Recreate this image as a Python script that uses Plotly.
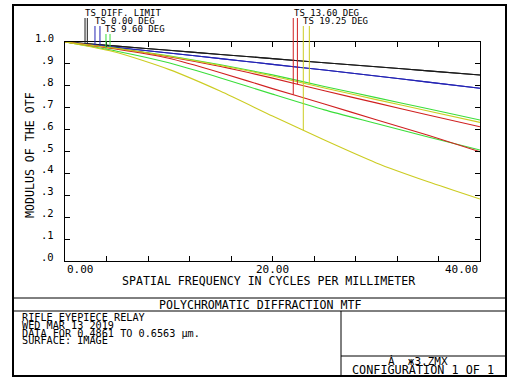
import numpy as np
import plotly.graph_objects as go

# ---------------- data ----------------
freq = [0, 5, 10, 15, 20, 25, 30, 35, 40]

diff_T = [1.0, 0.981, 0.962, 0.943, 0.924, 0.905, 0.887, 0.868, 0.849]
diff_S = [1.0, 0.981, 0.962, 0.943, 0.924, 0.905, 0.887, 0.868, 0.849]
deg0_T = [1.0, 0.975, 0.950, 0.924, 0.898, 0.872, 0.845, 0.817, 0.789]
deg0_S = [1.0, 0.975, 0.950, 0.924, 0.898, 0.872, 0.845, 0.817, 0.789]
deg9_T = [1.0, 0.958, 0.905, 0.836, 0.762, 0.690, 0.628, 0.566, 0.507]
deg9_S = [1.0, 0.971, 0.937, 0.896, 0.850, 0.797, 0.746, 0.695, 0.644]
deg13_T = [1.0, 0.967, 0.926, 0.860, 0.787, 0.717, 0.645, 0.574, 0.499]
deg13_S = [1.0, 0.970, 0.933, 0.888, 0.835, 0.777, 0.722, 0.667, 0.613]
deg19_T = [1.0, 0.952, 0.875, 0.775, 0.662, 0.552, 0.448, 0.362, 0.283]
deg19_S = [1.0, 0.970, 0.935, 0.893, 0.845, 0.790, 0.737, 0.685, 0.633]

labels = ["TS DIFF. LIMIT", "TS 0.00 DEG", "TS 9.60 DEG", "TS 13.60 DEG", "TS 19.25 DEG"]
x_tick_vals = [0, 20, 40]
x_tick_text = ["0.00", "20.00", "40.00"]
y_tick_vals = [1.0, 0.9, 0.8, 0.7, 0.6, 0.5, 0.4, 0.3, 0.2, 0.1, 0.0]
y_tick_text = ["1.0", ".9", ".8", ".7", ".6", ".5", ".4", ".3", ".2", ".1", ".0"]

# ---------------- styling / layout ----------------
W, H = 527, 380
L, R, T, B = 65, 480, 42, 261  # plot area in pixels
FONT = "DejaVu Sans Mono"

colors = ["#1a1a1a", "#2424b4", "#3ade3a", "#d02020", "#cccc22"]
series = [(diff_T, diff_S), (deg0_T, deg0_S), (deg9_T, deg9_S),
          (deg13_T, deg13_S), (deg19_T, deg19_S)]
# legend sample frequencies (T, S) and label layout
marker_freqs = [(1.93, 2.15), (2.89, 3.37), (3.95, 4.34), (22.0, 22.4), (22.97, 23.55)]
label_x = [1.73, 2.70, 3.66, 21.88, 22.75]
label_row = [0, 1, 2, 0, 1]


def pxx(x):
    return (x - L) / (R - L)


def pxy(y):
    return (B - y) / (B - T)


row_label_y = [pxy(13), pxy(21), pxy(29)]
row_line_top = [pxy(18), pxy(26), pxy(34)]

fig = go.Figure()
for (sT, sS), c in zip(series, colors):
    for s in (sT, sS):
        fig.add_trace(go.Scatter(x=freq, y=s, mode="lines",
                                 line=dict(color=c, width=1.1, shape="spline", smoothing=0.6),
                                 showlegend=False, hoverinfo="skip"))

shapes = []
annotations = []
for i, ((sT, sS), c) in enumerate(zip(series, colors)):
    for f, s in zip(marker_freqs[i], (sT, sS)):
        yv = float(np.interp(f, freq, s))
        shapes.append(dict(type="line", xref="x", yref="paper", x0=f, x1=f,
                           y0=yv, y1=row_line_top[label_row[i]],
                           line=dict(color=c, width=1)))
    annotations.append(dict(text=labels[i], xref="x", yref="paper", x=label_x[i],
                            y=row_label_y[label_row[i]], xanchor="left", yanchor="middle",
                            showarrow=False, font=dict(family=FONT, size=9, color="black")))

# tick labels
anchors = ["left", "center", "right"]
for v, t, a in zip(x_tick_vals, x_tick_text, anchors):
    annotations.append(dict(text=t, xref="x", yref="paper", x=v, y=pxy(269.5),
                            xanchor=a, yanchor="middle", showarrow=False,
                            font=dict(family=FONT, size=11, color="black")))
for v, t in zip(y_tick_vals, y_tick_text):
    annotations.append(dict(text=t, xref="paper", yref="y", x=pxx(56), y=v, yshift=4,
                            xanchor="right", yanchor="middle", showarrow=False,
                            font=dict(family=FONT, size=10.5, color="black")))

# axis titles
annotations.append(dict(text="SPATIAL FREQUENCY IN CYCLES PER MILLIMETER", xref="paper",
                        yref="paper", x=pxx(268), y=pxy(281), xanchor="center",
                        yanchor="middle", showarrow=False,
                        font=dict(family=FONT, size=11.6, color="black")))
annotations.append(dict(text="MODULUS OF THE OTF", xref="paper", yref="paper",
                        x=pxx(29.5), y=pxy(155.5), textangle=-90, xanchor="center",
                        yanchor="middle", showarrow=False,
                        font=dict(family=FONT, size=11.6, color="black")))

# bottom info block
annotations.append(dict(text="POLYCHROMATIC DIFFRACTION MTF", xref="paper", yref="paper",
                        x=pxx(260), y=pxy(304.5), xanchor="center", yanchor="middle",
                        showarrow=False, font=dict(family=FONT, size=11.6, color="black")))
info_lines = ["RIFLE EYEPIECE RELAY", "WED MAR 13 2019",
              "DATA FOR 0.4861 TO 0.6563 µm.", "SURFACE: IMAGE"]
for k, t in enumerate(info_lines):
    annotations.append(dict(text=t, xref="paper", yref="paper", x=pxx(20),
                            y=pxy(317.5 + 7.8 * k), xanchor="left", yanchor="middle",
                            showarrow=False, font=dict(family=FONT, size=10.2, color="black")))
annotations.append(dict(text="Ȧ  ж3.ZMX", xref="paper", yref="paper", x=pxx(418),
                        y=pxy(361.5), xanchor="center", yanchor="middle", showarrow=False,
                        font=dict(family=FONT, size=11, color="black")))
annotations.append(dict(text="CONFIGURATION 1 OF 1", xref="paper", yref="paper",
                        x=pxx(423), y=pxy(369.5), xanchor="center", yanchor="middle",
                        showarrow=False, font=dict(family=FONT, size=11.8, color="black")))

# frame lines
frame = dict(color="black", width=1)
shapes.append(dict(type="rect", xref="paper", yref="paper", x0=pxx(13), x1=pxx(506),
                   y0=pxy(5), y1=pxy(376), line=dict(color="black", width=2)))
shapes.append(dict(type="line", xref="paper", yref="paper", x0=pxx(13), x1=pxx(506),
                   y0=pxy(298), y1=pxy(298), line=frame))
shapes.append(dict(type="line", xref="paper", yref="paper", x0=pxx(13), x1=pxx(506),
                   y0=pxy(311), y1=pxy(311), line=frame))
shapes.append(dict(type="line", xref="paper", yref="paper", x0=pxx(341), x1=pxx(341),
                   y0=pxy(311), y1=pxy(376), line=frame))
shapes.append(dict(type="line", xref="paper", yref="paper", x0=pxx(341), x1=pxx(506),
                   y0=pxy(356), y1=pxy(356), line=frame))

fig.update_layout(
    width=W, height=H,
    margin=dict(l=L, r=W - R, t=T, b=H - B, pad=0),
    paper_bgcolor="white", plot_bgcolor="white",
    showlegend=False,
    shapes=shapes, annotations=annotations,
    xaxis=dict(range=[0, 40], dtick=4, tick0=0, ticks="inside", ticklen=5,
               tickcolor="black", showticklabels=False, showline=True,
               linecolor="black", linewidth=1, mirror="ticks", showgrid=False,
               zeroline=False, fixedrange=True),
    yaxis=dict(range=[0, 1], dtick=0.1, tick0=0, ticks="inside", ticklen=5,
               tickcolor="black", showticklabels=False, showline=True,
               linecolor="black", linewidth=1, mirror="ticks", showgrid=False,
               zeroline=False, fixedrange=True),
)

fig.write_html("out.html", config={"displayModeBar": False},
               post_script="document.body.style.margin='0px';")
